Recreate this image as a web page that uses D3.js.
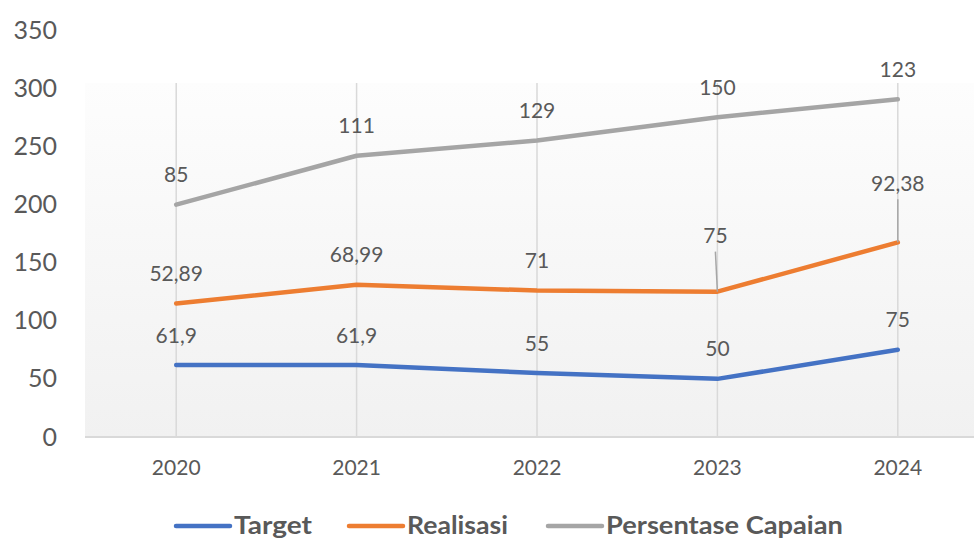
<!DOCTYPE html>
<html>
<head>
<meta charset="utf-8">
<script src="https://cdn.jsdelivr.net/npm/d3@7"></script>
<style>
  html, body { margin: 0; padding: 0; background: #ffffff; }
  svg { display: block; }
</style>
</head>
<body>
<svg id="chart" width="974" height="539"></svg>
<script>
// Data: yearly target, realisation and achievement percentage (stacked line chart)
const years = ["2020", "2021", "2022", "2023", "2024"];
const target = [61.9, 61.9, 55, 50, 75];
const realisasi = [52.89, 68.99, 71, 75, 92.38];
const persentase = [85, 111, 129, 150, 123];
const seriesNames = ["Target", "Realisasi", "Persentase Capaian"];
const seriesColors = ["#4472C4", "#ED7D31", "#A5A5A5"];
const yTicks = [0, 50, 100, 150, 200, 250, 300, 350];

const fmt = v => String(v).replace(".", ",");

const svg = d3.select("#chart");
const textColor = "#595959";
const font = "Lato, 'Open Sans', sans-serif";

// Scales
const x = d3.scaleBand().domain(years).range([86, 988]).padding(0);
const cx = d => x(d) + x.bandwidth() / 2;
const y = d3.scaleLinear().domain([0, 350]).range([437, 30]);

// Stack the three series
const rows = years.map((yr, i) => ({ year: yr, Target: target[i], Realisasi: realisasi[i], "Persentase Capaian": persentase[i] }));
const stacked = d3.stack().keys(seriesNames)(rows);

// Plot-area background gradient
const defs = svg.append("defs");
const grad = defs.append("linearGradient").attr("id", "bg").attr("x1", 0).attr("y1", 0).attr("x2", 0).attr("y2", 1);
grad.append("stop").attr("offset", "0%").attr("stop-color", "#fdfdfd");
grad.append("stop").attr("offset", "100%").attr("stop-color", "#f1f1f1");
svg.append("rect").attr("x", 85).attr("y", 83).attr("width", 974 - 85).attr("height", 437 - 83).attr("fill", "url(#bg)");

// Vertical gridlines at each category
svg.append("g").selectAll("line").data(years).join("line")
  .attr("x1", d => cx(d)).attr("x2", d => cx(d))
  .attr("y1", y(0)).attr("y2", 83)
  .attr("stroke", "#d9d9d9").attr("stroke-width", 1.5);

// Category axis
const xAxis = svg.append("g").attr("transform", `translate(0,${y(0)})`)
  .call(d3.axisBottom(x).tickSize(0).tickPadding(23));
xAxis.select(".domain").remove();
xAxis.append("line").attr("x1", 85).attr("x2", 974).attr("y1", 0).attr("y2", 0)
  .attr("stroke", "#d9d9d9").attr("stroke-width", 1.8);
xAxis.selectAll("text").attr("fill", textColor).style("font-family", font).style("font-size", "21px");

// Value axis labels
const yAxis = svg.append("g").attr("transform", "translate(57,0)")
  .call(d3.axisLeft(y).tickValues(yTicks).tickSize(0).tickPadding(0));
yAxis.select(".domain").remove();
yAxis.selectAll("text").attr("fill", textColor).style("font-family", font).style("font-size", "25px");

// Lines
const line = d3.line().x(d => cx(d.data.year)).y(d => y(d[1]));
svg.append("g").selectAll("path").data(stacked).join("path")
  .attr("d", d => line(d))
  .attr("fill", "none")
  .attr("stroke", (d, i) => seriesColors[i])
  .attr("stroke-width", 4.5)
  .attr("stroke-linecap", "round")
  .attr("stroke-linejoin", "round");

// Data labels with a few shifted to avoid overlaps
const rawValues = [target, realisasi, persentase];
const shifted = { "1-3": { dx: -2, dy: -57, leader: true }, "1-4": { dx: 0, dy: -60, leader: true } };
const labels = svg.append("g").style("font-family", font).style("font-size", "21px").attr("fill", textColor);
stacked.forEach((s, si) => {
  s.forEach((d, i) => {
    const px = cx(d.data.year), py = y(d[1]);
    const sh = shifted[si + "-" + i];
    const lx = px + (sh ? sh.dx : 0);
    const ly = py + (sh ? sh.dy : -31);
    if (sh && sh.leader) {
      svg.append("line")
        .attr("x1", lx).attr("y1", ly + 17).attr("x2", px).attr("y2", py)
        .attr("stroke", "#a6a6a6").attr("stroke-width", 1.5);
    }
    labels.append("text")
      .attr("x", lx).attr("y", ly)
      .attr("text-anchor", "middle").attr("dominant-baseline", "central")
      .text(fmt(rawValues[si][i]));
  });
});

// Legend
const legendItems = [
  { name: seriesNames[0], color: seriesColors[0], x: 176, w: 78 },
  { name: seriesNames[1], color: seriesColors[1], x: 349, w: 101 },
  { name: seriesNames[2], color: seriesColors[2], x: 548, w: 237 }
];
const legend = svg.append("g");
legendItems.forEach(it => {
  legend.append("line").attr("x1", it.x).attr("x2", it.x + 54).attr("y1", 526).attr("y2", 526)
    .attr("stroke", it.color).attr("stroke-width", 4.5).attr("stroke-linecap", "round");
  legend.append("text").attr("x", it.x + 58).attr("y", 534)
    .attr("textLength", it.w).attr("lengthAdjust", "spacingAndGlyphs")
    .attr("fill", textColor).style("font-family", font).style("font-weight", "bold").style("font-size", "25px")
    .text(it.name);
});
</script>
</body>
</html>
